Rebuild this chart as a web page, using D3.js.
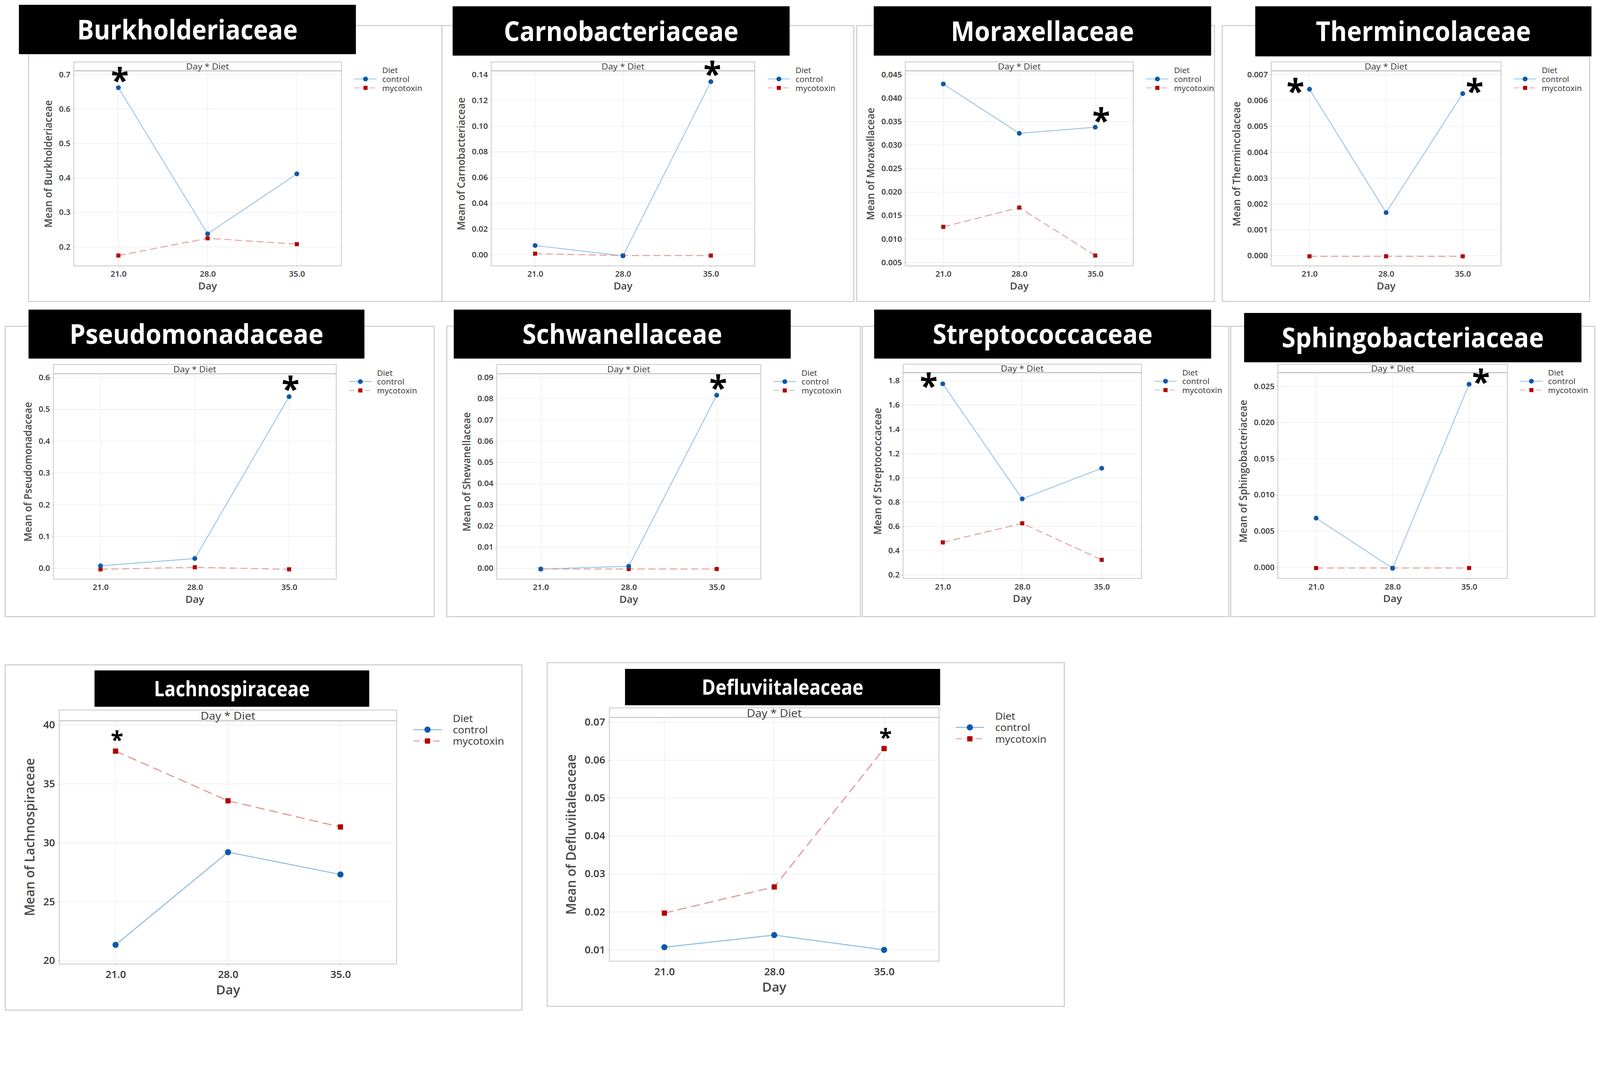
<!DOCTYPE html>
<html>
<head>
<meta charset="utf-8">
<script src="https://cdn.jsdelivr.net/npm/d3@7"></script>
<style>
  html, body { margin: 0; background: #fff; overflow: hidden; }
  svg { display: block; width: 100vw; height: 100vh; }
  text { font-family: "Open Sans", sans-serif; }
</style>
</head>
<body>
<div id="chart-area"></div>
<script>

// Data
let families = ["Burkholderiaceae", "Carnobacteriaceae", "Moraxellaceae", "Thermincolaceae",
    "Pseudomonadaceae", "Schwanellaceae", "Streptococcaceae", "Sphingobacteriaceae",
    "Lachnospiraceae", "Defluviitaleaceae"];

let yTitles = ["Mean of Burkholderiaceae", "Mean of Carnobacteriaceae", "Mean of Moraxellaceae",
    "Mean of Thermincolaceae", "Mean of Pseudomonadaceae", "Mean of Shewanellaceae",
    "Mean of Streptococcaceae", "Mean of Sphingobacteriaceae", "Mean of Lachnospiraceae",
    "Mean of Defluviitaleaceae"];

let days = ["21.0", "28.0", "35.0"];
let diets = ["control", "mycotoxin"];

let controlMeans = [
    [0.662, 0.238, 0.412],
    [0.0072, -0.0008, 0.1346],
    [0.0430, 0.0325, 0.0338],
    [0.00644, 0.00167, 0.00627],
    [0.008, 0.031, 0.540],
    [-0.0003, 0.001, 0.0817],
    [1.775, 0.827, 1.080],
    [0.0068, -0.00014, 0.0253],
    [21.35, 29.21, 27.32],
    [0.0107, 0.0139, 0.0100]
];

let mycotoxinMeans = [
    [0.175, 0.225, 0.208],
    [0.0009, -0.0006, -0.0006],
    [0.0126, 0.0167, 0.0065],
    [-0.00002, -0.00002, -0.00002],
    [-0.003, 0.0035, -0.003],
    [-0.0003, -0.0003, -0.0003],
    [0.469, 0.626, 0.325],
    [-0.0001, -0.0001, -0.0001],
    [37.78, 33.57, 31.35],
    [0.0197, 0.0266, 0.0631]
];

// y axis extent of each panel (data area, below the Day * Diet strip)
let yRanges = [
    [0.145, 0.711], [-0.0086, 0.143], [0.0043, 0.0458], [-0.00039, 0.00715],
    [-0.034, 0.612], [-0.0051, 0.0918], [0.172, 1.867], [-0.00154, 0.0269],
    [19.72, 40.35], [0.00703, 0.0713]
];

let yTickLabels = [
    ["0.2", "0.3", "0.4", "0.5", "0.6", "0.7"],
    ["0.00", "0.02", "0.04", "0.06", "0.08", "0.10", "0.12", "0.14"],
    ["0.005", "0.010", "0.015", "0.020", "0.025", "0.030", "0.035", "0.040", "0.045"],
    ["0.000", "0.001", "0.002", "0.003", "0.004", "0.005", "0.006", "0.007"],
    ["0.0", "0.1", "0.2", "0.3", "0.4", "0.5", "0.6"],
    ["0.00", "0.01", "0.02", "0.03", "0.04", "0.05", "0.06", "0.07", "0.08", "0.09"],
    ["0.2", "0.4", "0.6", "0.8", "1.0", "1.2", "1.4", "1.6", "1.8"],
    ["0.000", "0.005", "0.010", "0.015", "0.020", "0.025"],
    ["20", "25", "30", "35", "40"],
    ["0.01", "0.02", "0.03", "0.04", "0.05", "0.06", "0.07"]
];

// significance marks: panel, series, day, where the star sits
let stars = [
    [0, "control", "21.0", "above"],
    [1, "control", "35.0", "above"],
    [2, "control", "35.0", "aboveRight"],
    [3, "control", "21.0", "left"],
    [3, "control", "35.0", "right"],
    [4, "control", "35.0", "above"],
    [5, "control", "35.0", "above"],
    [6, "control", "21.0", "left"],
    [7, "control", "35.0", "right"],
    [8, "mycotoxin", "21.0", "above"],
    [9, "mycotoxin", "35.0", "above"]
];

// Page layout (pixel boxes of each panel)
let panels = [
    {frame: [77, 69, 1192, 813],    bar: [51, 13, 960, 146],      plot: [199, 167, 921, 717],    strip: 24, s: 1,    titleW: 595, titleF: 74},
    {frame: [1192, 69, 2303, 813],  bar: [1221, 17, 2130, 150],   plot: [1325, 167, 2036, 717],  strip: 24, s: 1,    titleW: 633, titleF: 74},
    {frame: [2311, 69, 3276, 813],  bar: [2357, 17, 3267, 150],   plot: [2442, 167, 3057, 717],  strip: 24, s: 1,    titleW: 494, titleF: 74},
    {frame: [3297, 69, 4288, 813],  bar: [3386, 17, 4293, 152],   plot: [3429, 167, 4049, 717],  strip: 24, s: 1,    titleW: 580, titleF: 74},
    {frame: [14, 880, 1171, 1663],  bar: [77, 835, 983, 967],     plot: [144, 983, 907, 1562],   strip: 25, s: 1,    titleW: 685, titleF: 74},
    {frame: [1205, 880, 2321, 1663], bar: [1224, 835, 2133, 967], plot: [1340, 983, 2052, 1562], strip: 25, s: 1,    titleW: 539, titleF: 74},
    {frame: [2326, 880, 3315, 1663], bar: [2358, 835, 3267, 967], plot: [2436, 982, 3079, 1560], strip: 23, s: 1,    titleW: 593, titleF: 74},
    {frame: [3320, 880, 4302, 1663], bar: [3356, 844, 4266, 977], plot: [3447, 982, 4066, 1560], strip: 23, s: 1,    titleW: 707, titleF: 74},
    {frame: [14, 1793, 1408, 2724], bar: [255, 1808, 996, 1906],  plot: [160, 1915, 1070, 2600], strip: 29, s: 1.28, titleW: 420, titleF: 57},
    {frame: [1476, 1787, 2871, 2714], bar: [1686, 1804, 2536, 1902], plot: [1644, 1909, 2533, 2592], strip: 26, s: 1.28, titleW: 436, titleF: 57}
];

let starOffset = {above: [4, -36], aboveRight: [16, -34], left: [-38, -10], right: [32, -22]};

let colors = {
    control: {line: "#86b8e3", mark: "#0b58aa"},
    mycotoxin: {line: "#e39a9a", mark: "#b10000"}
};

// the pasted charts are slightly stretched sideways
let K = 1.06;

function widen(sel) {
    sel.each(function() {
        let t = d3.select(this);
        let x = +t.attr("x") || 0;
        t.attr("x", x / K).attr("transform", `scale(${K},1)`);
    });
    return sel;
}

let svg = d3.select("#chart-area").append("svg")
    .attr("viewBox", "0 0 4316 2736")
    .attr("preserveAspectRatio", "xMinYMin meet");

// frames first so titles and plots sit on top
panels.forEach(p => {
    svg.append("rect")
        .attr("x", p.frame[0]).attr("y", p.frame[1])
        .attr("width", p.frame[2] - p.frame[0])
        .attr("height", p.frame[3] - p.frame[1])
        .attr("fill", "none")
        .attr("stroke", "#c8c8c8")
        .attr("stroke-width", 2.5);
});

panels.forEach((p, i) => drawPanel(p, i));

function drawPanel(p, i) {
    let s = p.s;
    let g = svg.append("g").attr("class", "panel");
    let [px0, py0, px1, py1] = p.plot;
    let top = py0 + p.strip;

    // title bar
    g.append("rect")
        .attr("x", p.bar[0]).attr("y", p.bar[1])
        .attr("width", p.bar[2] - p.bar[0])
        .attr("height", p.bar[3] - p.bar[1])
        .attr("fill", "#000");
    let cx = (p.bar[0] + p.bar[2]) / 2,
        cy = (p.bar[1] + p.bar[3]) / 2;
    g.append("text")
        .attr("x", cx - p.titleW / 2)
        .attr("y", cy + p.titleF * 0.36)
        .attr("textLength", p.titleW)
        .attr("lengthAdjust", "spacingAndGlyphs")
        .attr("fill", "#fff")
        .attr("font-weight", 700)
        .attr("font-size", p.titleF)
        .text(families[i]);

    // Scales
    let x = d3.scalePoint()
        .domain(days)
        .range([px0, px1])
        .padding(0.5);

    let y = d3.scaleLinear()
        .domain(yRanges[i])
        .range([py1, top]);

    let ticks = yTickLabels[i].map(Number);

    // gridlines
    g.append("g").selectAll("line.hgrid")
        .data(ticks).join("line")
        .attr("class", "hgrid")
        .attr("x1", px0).attr("x2", px1)
        .attr("y1", d => y(d)).attr("y2", d => y(d))
        .attr("stroke", "#ececec").attr("stroke-width", 1.5);
    g.append("g").selectAll("line.vgrid")
        .data(days).join("line")
        .attr("class", "vgrid")
        .attr("x1", d => x(d)).attr("x2", d => x(d))
        .attr("y1", top).attr("y2", py1)
        .attr("stroke", "#ececec").attr("stroke-width", 1.5);

    // plot box and Day * Diet strip
    g.append("rect")
        .attr("x", px0).attr("y", py0)
        .attr("width", px1 - px0).attr("height", py1 - py0)
        .attr("fill", "none")
        .attr("stroke", "#c4c4c4").attr("stroke-width", 2);
    g.append("line")
        .attr("x1", px0).attr("x2", px1)
        .attr("y1", top).attr("y2", top)
        .attr("stroke", "#bdbdbd").attr("stroke-width", 2.5);
    widen(g.append("text")
        .attr("x", (px0 + px1) / 2)
        .attr("y", py0 + p.strip / 2)
        .attr("text-anchor", "middle")
        .attr("dominant-baseline", "central")
        .attr("font-size", 23 * s)
        .attr("fill", "#3a3a3a")
        .text("Day * Diet"));

    // Axes
    let yAxisGroup = g.append("g")
        .attr("transform", `translate(${px0}, 0)`)
        .call(d3.axisLeft(y)
            .tickValues(ticks)
            .tickFormat((d, k) => yTickLabels[i][k])
            .tickSize(4 * s)
            .tickPadding(5 * s));
    yAxisGroup.select(".domain").remove();
    yAxisGroup.selectAll(".tick line").attr("stroke", "#c4c4c4").attr("stroke-width", 1.5);
    widen(yAxisGroup.selectAll("text")
        .attr("font-family", "Open Sans")
        .attr("font-size", 20.5 * s)
        .attr("font-weight", 600)
        .attr("fill", "#333"));

    let xAxisGroup = g.append("g")
        .attr("transform", `translate(0, ${py1})`)
        .call(d3.axisBottom(x)
            .tickSize(4 * s)
            .tickPadding(11 * s));
    xAxisGroup.select(".domain").remove();
    xAxisGroup.selectAll(".tick line").attr("stroke", "#c4c4c4").attr("stroke-width", 1.5);
    widen(xAxisGroup.selectAll("text")
        .attr("font-family", "Open Sans")
        .attr("font-size", 20.5 * s)
        .attr("font-weight", 600)
        .attr("fill", "#333"));

    // axis titles
    widen(g.append("text")
        .attr("x", (px0 + px1) / 2)
        .attr("y", py1 + 64 * s)
        .attr("text-anchor", "middle")
        .attr("font-size", 26 * s)
        .attr("font-weight", 600)
        .attr("fill", "#444")
        .text("Day"));

    let tickLeft = yAxisGroup.node().getBBox().x + px0;
    g.append("text")
        .attr("transform", `translate(${tickLeft - 30 * s}, ${(py0 + py1) / 2}) scale(${K},1) rotate(-90)`)
        .attr("text-anchor", "middle")
        .attr("dominant-baseline", "central")
        .attr("font-size", 27 * s)
        .attr("font-weight", 600)
        .attr("fill", "#4a4a4a")
        .text(yTitles[i]);

    // series
    let series = [
        {name: "control", values: controlMeans[i]},
        {name: "mycotoxin", values: mycotoxinMeans[i]}
    ];

    let line = d3.line()
        .x(d => x(d.day))
        .y(d => y(d.v));

    series.forEach(ser => {
        let pts = days.map((d, k) => ({day: d, v: ser.values[k]}));
        g.append("path")
            .datum(pts)
            .attr("d", line)
            .attr("fill", "none")
            .attr("stroke", colors[ser.name].line)
            .attr("stroke-width", ser.name === "control" ? 2 * s : 2.5 * s)
            .attr("stroke-dasharray", ser.name === "control" ? null : `${19 * s},${10 * s}`);
    });

    // markers (mycotoxin under control, like the original)
    let sq = 11 * s;
    g.append("g").selectAll("rect")
        .data(days.map((d, k) => ({day: d, v: mycotoxinMeans[i][k]})))
        .join("rect")
        .attr("x", d => x(d.day) - sq / 2)
        .attr("y", d => y(d.v) - sq / 2)
        .attr("width", sq).attr("height", sq)
        .attr("fill", colors.mycotoxin.mark);
    g.append("g").selectAll("circle")
        .data(days.map((d, k) => ({day: d, v: controlMeans[i][k]})))
        .join("circle")
        .attr("cx", d => x(d.day))
        .attr("cy", d => y(d.v))
        .attr("r", 6.5 * s)
        .attr("fill", colors.control.mark);

    // legend
    let lx = px1 + 35 * s,
        len = 60 * s,
        tx = lx + len + (s > 1 ? 30 : 15),
        ly = py0 + 22;
    widen(g.append("text")
        .attr("x", tx).attr("y", ly)
        .attr("dominant-baseline", "central")
        .attr("font-size", 21 * s).attr("fill", "#333")
        .text("Diet"));
    diets.forEach((name, k) => {
        let yy = ly + (k + 1) * 24 * s;
        g.append("line")
            .attr("x1", lx).attr("x2", lx + len)
            .attr("y1", yy).attr("y2", yy)
            .attr("stroke", colors[name].line)
            .attr("stroke-width", 2 * s)
            .attr("stroke-dasharray", name === "control" ? null : `${14 * s},${7 * s}`);
        if (name === "control") {
            g.append("circle")
                .attr("cx", lx + len / 2).attr("cy", yy)
                .attr("r", 6.5 * s)
                .attr("fill", colors[name].mark);
        } else {
            g.append("rect")
                .attr("x", lx + len / 2 - sq / 2).attr("y", yy - sq / 2)
                .attr("width", sq).attr("height", sq)
                .attr("fill", colors[name].mark);
        }
        widen(g.append("text")
            .attr("x", tx).attr("y", yy)
            .attr("dominant-baseline", "central")
            .attr("font-size", 21 * s).attr("fill", "#333")
            .text(name));
    });

    // significance stars
    stars.filter(st => st[0] === i).forEach(st => {
        let vals = st[1] === "control" ? controlMeans[i] : mycotoxinMeans[i];
        let k = days.indexOf(st[2]);
        let off = starOffset[st[3]];
        let fs = s > 1 ? 62 : 88;
        g.append("text")
            .attr("x", x(st[2]) + off[0])
            .attr("y", y(vals[k]) + off[1] * (s > 1 ? 1.15 : 1) + fs * 0.53)
            .attr("text-anchor", "middle")
            .attr("font-family", "DejaVu Sans")
            .attr("font-weight", 700)
            .attr("font-size", fs)
            .attr("fill", "#000")
            .text("*");
    });
}
</script>
</body>
</html>
